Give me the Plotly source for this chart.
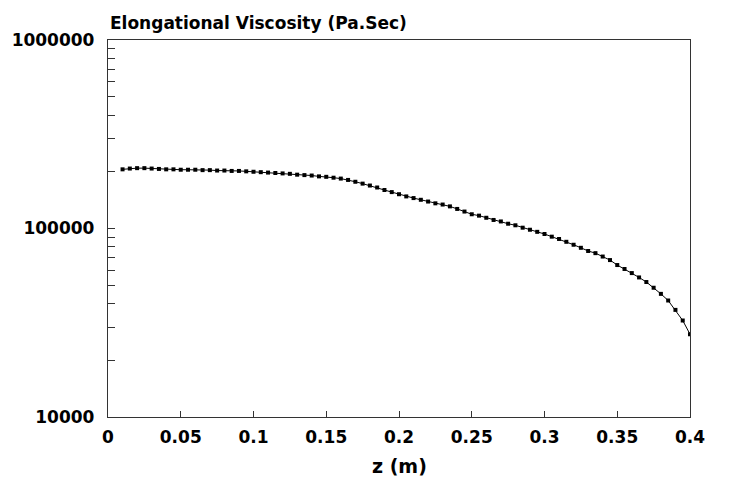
import plotly.graph_objects as go

# Axial position along the spinline (m)
z_m = [
    0.010, 0.015, 0.020, 0.025, 0.030, 0.035, 0.040, 0.045, 0.050, 0.055,
    0.060, 0.065, 0.070, 0.075, 0.080, 0.085, 0.090, 0.095, 0.100, 0.105,
    0.110, 0.115, 0.120, 0.125, 0.130, 0.135, 0.140, 0.145, 0.150, 0.155,
    0.160, 0.165, 0.170, 0.175, 0.180, 0.185, 0.190, 0.195, 0.200, 0.205,
    0.210, 0.215, 0.220, 0.225, 0.230, 0.235, 0.240, 0.245, 0.250, 0.255,
    0.260, 0.265, 0.270, 0.275, 0.280, 0.285, 0.290, 0.295, 0.300, 0.305,
    0.310, 0.315, 0.320, 0.325, 0.330, 0.335, 0.340, 0.345, 0.350, 0.355,
    0.360, 0.365, 0.370, 0.375, 0.380, 0.385, 0.390, 0.395, 0.400,
]

# Elongational viscosity (Pa.s)
viscosity = [
    206000, 208000, 209000, 209000, 208000, 207000, 206000, 206000, 205000, 205000,
    205000, 204000, 204000, 203000, 203000, 202000, 202000, 201000, 200000, 199000,
    198000, 197000, 196000, 195000, 193000, 192000, 191000, 189000, 188000, 186000,
    184000, 181000, 177000, 173000, 169000, 165000, 160000, 156000, 152000, 148000,
    145000, 142000, 139000, 136000, 134000, 131000, 127000, 123000, 119000, 117000,
    114000, 111000, 109000, 106000, 104000, 101000, 98500, 96000, 93500, 90500,
    88000, 85000, 82000, 79000, 76000, 74000, 71000, 68000, 64000, 61000,
    58000, 55000, 52000, 48500, 45000, 41500, 37000, 32500, 27500,
]

x_ticks = [0, 0.05, 0.1, 0.15, 0.2, 0.25, 0.3, 0.35, 0.4]
x_labels = ["0", "0.05", "0.1", "0.15", "0.2", "0.25", "0.3", "0.35", "0.4"]

major_y = [10000, 100000, 1000000]
major_y_labels = ["10000", "100000", "1000000"]

# log ticks: labelled decades plus unlabelled 2..9 subdivisions
y_tickvals = []
y_ticktext = []
for d in (10000, 100000):
    for m in range(1, 10):
        v = d * m
        y_tickvals.append(v)
        y_ticktext.append(major_y_labels[major_y.index(v)] if v in major_y else "")
y_tickvals.append(1000000)
y_ticktext.append("1000000")

font_family = "DejaVu Sans"
tick_font = dict(family=font_family, size=17, color="black", weight="bold")
frame_color = "#333"

fig = go.Figure()
fig.add_trace(go.Scatter(
    x=z_m, y=viscosity, mode="lines+markers",
    line=dict(color="black", width=1),
    marker=dict(symbol="square", size=4, color="black"),
    showlegend=False,
))

fig.update_layout(
    width=731, height=489,
    margin=dict(l=108, r=41, t=40, b=72),
    plot_bgcolor="white", paper_bgcolor="white",
    font=dict(family=font_family, size=16, color="black"),
    xaxis=dict(
        range=[0, 0.4], tickvals=x_ticks, ticktext=x_labels,
        ticks="inside", ticklen=6, tickcolor=frame_color,
        ticklabelstandoff=4,
        showgrid=False, zeroline=False,
        showline=True, linecolor=frame_color, linewidth=1.3, mirror=True,
        tickfont=tick_font,
    ),
    yaxis=dict(
        type="log", range=[4, 6], tickvals=y_tickvals, ticktext=y_ticktext,
        ticks="inside", ticklen=7, tickcolor=frame_color,
        ticklabelstandoff=9,
        showgrid=False, zeroline=False,
        showline=True, linecolor=frame_color, linewidth=1.3, mirror=True,
        tickfont=tick_font,
    ),
    annotations=[
        dict(text="<b>Elongational Viscosity (Pa.Sec)</b>", xref="paper", yref="paper",
             x=0, y=1, xanchor="left", yanchor="bottom", yshift=5, showarrow=False,
             font=dict(family=font_family, size=17, color="black")),
        dict(text="<b>z (m)</b>", xref="paper", yref="paper",
             x=0.5, y=0, xanchor="center", yanchor="top", yshift=-36, showarrow=False,
             font=dict(family=font_family, size=19, color="black")),
    ],
)

fig.write_html("out.html")
